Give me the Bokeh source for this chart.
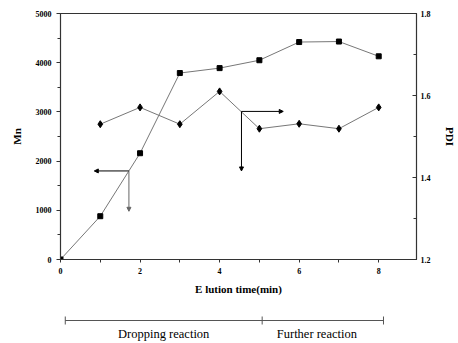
from bokeh.plotting import figure
from bokeh.models import Range1d, LinearAxis, Arrow, NormalHead, FixedTicker
from bokeh.layouts import column
from bokeh.core.properties import value
from bokeh.embed import file_html
from bokeh.resources import INLINE

time_mn = [0, 1, 2, 3, 4, 5, 6, 7, 8]
mn = [0, 880, 2160, 3790, 3890, 4050, 4420, 4430, 4130]
time_pdi = [1, 2, 3, 4, 5, 6, 7, 8]
pdi = [1.53, 1.571, 1.53, 1.61, 1.519, 1.531, 1.519, 1.571]
x_ticks = [0, 2, 4, 6, 8]
mn_ticks = [0, 1000, 2000, 3000, 4000, 5000]
pdi_ticks = [1.2, 1.4, 1.6, 1.8]
stages = ["Dropping reaction", "Further reaction"]
stage_bounds = [0.12, 5.07, 8.12]

SERIF = "Liberation Serif"

p = figure(width=458, height=305, output_backend="svg", toolbar_location=None,
           x_range=Range1d(0, 8.95), y_range=Range1d(0, 5000),
           min_border_left=60, min_border_right=40, min_border_top=13, min_border_bottom=46)
p.xgrid.visible = False
p.ygrid.visible = False
p.outline_line_color = "#333333"
p.outline_line_width = 1.2
p.background_fill_color = "white"
p.border_fill_color = "white"

p.extra_y_ranges = {"pdi": Range1d(1.2, 1.8)}

def style_axis(ax, label):
    ax.axis_label = label
    ax.axis_label_text_font = SERIF
    ax.axis_label_text_font_style = "bold"
    ax.axis_label_text_font_size = "11px"
    ax.axis_label_text_color = "black"
    ax.major_label_text_font = SERIF
    ax.major_label_text_font_style = "bold"
    ax.major_label_text_font_size = "8px"
    ax.major_label_text_color = "black"
    ax.axis_line_color = "#333333"
    ax.major_tick_line_color = "#333333"
    ax.minor_tick_line_color = "#333333"

# left axis
ya = p.yaxis[0]
style_axis(ya, "Mn")
ya.ticker = FixedTicker(ticks=mn_ticks, minor_ticks=[500, 1500, 2500, 3500, 4500])
ya.axis_label_standoff = 10
ya.major_tick_in = 0
ya.major_tick_out = 4
ya.minor_tick_in = 0
ya.minor_tick_out = 3

# bottom axis
xa = p.xaxis[0]
style_axis(xa, "E lution time(min)")
xa.ticker = FixedTicker(ticks=x_ticks, minor_ticks=[1, 3, 5, 7])
xa.axis_label_standoff = 6
xa.major_tick_in = 0
xa.major_tick_out = 3
xa.minor_tick_in = 0
xa.minor_tick_out = 3

# right axis
ra = LinearAxis(y_range_name="pdi")
style_axis(ra, "PDI")
ra.ticker = FixedTicker(ticks=pdi_ticks, minor_ticks=[1.3, 1.5, 1.7])
ra.axis_label_standoff = 10
ra.major_tick_in = 4
ra.major_tick_out = 0
ra.minor_tick_in = 3
ra.minor_tick_out = 0
ra.major_label_standoff = 4
p.add_layout(ra, "right")

# Mn series
p.line(time_mn, mn, line_color="#777777", line_width=1)
p.scatter(time_mn, mn, marker="square", size=5, fill_color="black", line_color="black")

# PDI series
p.line(time_pdi, pdi, line_color="#777777", line_width=1, y_range_name="pdi")
p.scatter(time_pdi, pdi, marker="diamond", size=7, fill_color="black", line_color="black",
          y_range_name="pdi")

# indicator arrows
def arrow(x0, y0, x1, y1, color):
    p.add_layout(Arrow(x_start=x0, y_start=y0, x_end=x1, y_end=y1, line_color=color, line_width=1,
                       end=NormalHead(size=4, fill_color=color, line_color=color)))

arrow(1.72, 1800, 0.85, 1800, "black")
arrow(1.72, 1800, 1.72, 980, "#666666")
arrow(4.55, 3010, 5.6, 3010, "black")
arrow(4.55, 3010, 4.55, 1800, "black")

# bottom stage bar
b = figure(width=458, height=38, output_backend="svg", toolbar_location=None,
           x_range=p.x_range, y_range=Range1d(0, 38),
           min_border_left=60, min_border_right=40, min_border_top=0, min_border_bottom=0)
b.axis.visible = False
b.xgrid.visible = False
b.ygrid.visible = False
b.outline_line_color = None
b.border_fill_color = "white"
b.segment(x0=[stage_bounds[0]], y0=[23], x1=[stage_bounds[-1]], y1=[23], line_color="#555555", line_width=1)
b.segment(x0=stage_bounds, y0=[19] * 3, x1=stage_bounds, y1=[27] * 3, line_color="#555555", line_width=1)
mids = [(stage_bounds[0] + stage_bounds[1]) / 2, (stage_bounds[1] + stage_bounds[2]) / 2 - 0.15]
b.text(x=mids, y=[10, 10], text=stages, text_align="center", text_baseline="middle",
       text_font=value(SERIF), text_font_size="12.5px", text_color="black")

layout = column(p, b, spacing=0)
open("out.html", "w").write(file_html(layout, INLINE))
